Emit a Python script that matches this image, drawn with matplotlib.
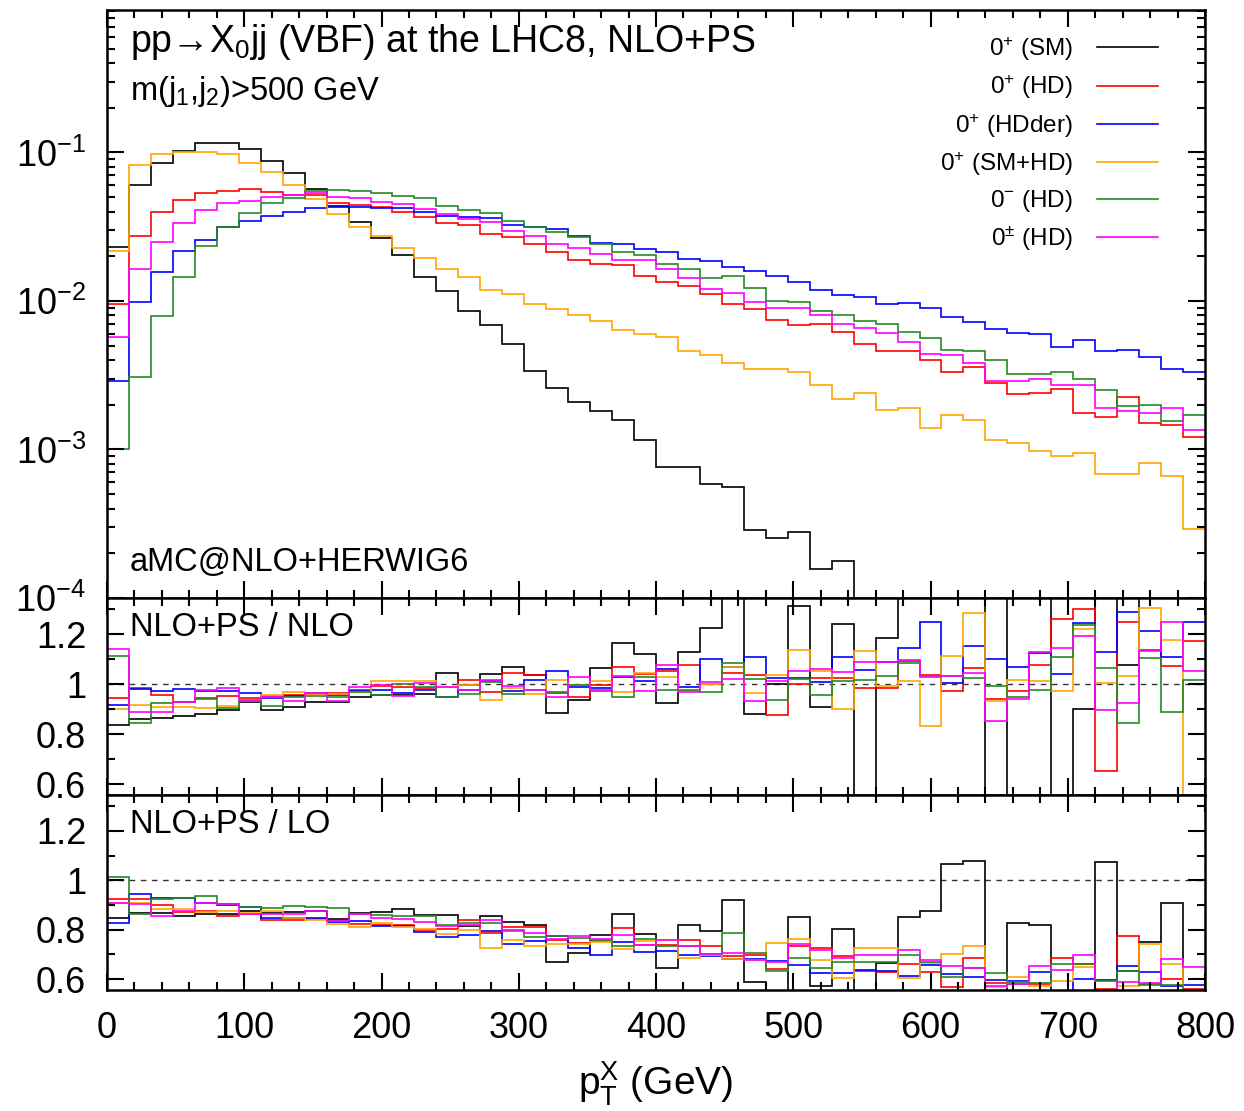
import numpy as np
import matplotlib
matplotlib.use("Agg")
import matplotlib.pyplot as plt
from matplotlib.lines import Line2D
from matplotlib.ticker import MultipleLocator, FixedLocator, LogLocator, NullFormatter

plt.rcParams['font.family'] = ['Liberation Sans', 'DejaVu Sans']
plt.rcParams['mathtext.fontset'] = 'custom'
plt.rcParams['mathtext.rm'] = 'Liberation Sans'
plt.rcParams['mathtext.it'] = 'Liberation Sans'
plt.rcParams['mathtext.bf'] = 'Liberation Sans'

# pT^X bins, 16 GeV wide, 0-800 GeV
bin_width = 16
edges = np.arange(0, 800 + bin_width, bin_width)

labels = [r'0$^{+}$ (SM)', r'0$^{+}$ (HD)', r'0$^{+}$ (HDder)',
          r'0$^{+}$ (SM+HD)', r'0$^{-}$ (HD)', r'0$^{\pm}$ (HD)']
colors = ['black', '#ff0000', '#0000ff', '#ffa500', '#228b22', '#ff00ff']

# normalised distributions (NLO+PS)
dist_sm = [0.023, 0.060, 0.085, 0.103, 0.115, 0.115, 0.106, 0.087, 0.073, 0.057,
           0.0434, 0.034, 0.0267, 0.0204, 0.0144, 0.0117, 0.0085, 0.0069, 0.0051, 0.0034,
           0.0026, 0.0021, 0.00182, 0.00158, 0.00115, 0.00076, 0.00076, 0.00059, 0.00056, 0.000286,
           0.000254, 0.00028, 0.000156, 0.000177, 8e-5, 7e-5, 5e-5, 4e-5, 3e-5, 3e-5,
           2e-5, 2e-5, 1e-5, 1e-5, 1e-5, 1e-5, 1e-5, 1e-5, 1e-5, 1e-5]
dist_hd = [0.0095, 0.0273, 0.040, 0.048, 0.053, 0.055, 0.0566, 0.054, 0.0515, 0.0515,
           0.046, 0.0443, 0.0426, 0.0395, 0.0369, 0.0335, 0.0325, 0.0283, 0.0269, 0.0243,
           0.0213, 0.0188, 0.0178, 0.0175, 0.0147, 0.0134, 0.0126, 0.0111, 0.0096, 0.0088,
           0.0074, 0.0069, 0.0070, 0.0062, 0.0051, 0.0046, 0.0046, 0.0040, 0.0033, 0.0036,
           0.0028, 0.00237, 0.0024, 0.00256, 0.00175, 0.00166, 0.00224, 0.0015, 0.00146, 0.00122]
dist_hdder = [0.0029, 0.0099, 0.0157, 0.0216, 0.0259, 0.0313, 0.0347, 0.0372, 0.0399, 0.042,
              0.0426, 0.0426, 0.042, 0.0422, 0.0399, 0.0375, 0.0366, 0.0362, 0.0325, 0.0313,
              0.0305, 0.0273, 0.0245, 0.0243, 0.0225, 0.0213, 0.0192, 0.0185, 0.0168, 0.0159,
              0.0147, 0.0134, 0.0119, 0.0110, 0.0106, 0.0096, 0.0097, 0.0089, 0.0078, 0.0072,
              0.0065, 0.0061, 0.0060, 0.0049, 0.0055, 0.0046, 0.0047, 0.0042, 0.0035, 0.0033]
dist_smhd = [0.0217, 0.082, 0.097, 0.101, 0.101, 0.097, 0.085, 0.074, 0.060, 0.0486,
             0.0387, 0.0313, 0.0273, 0.0227, 0.0195, 0.0165, 0.0144, 0.0118, 0.0111, 0.0096,
             0.0088, 0.0080, 0.0073, 0.0064, 0.0060, 0.0057, 0.0046, 0.0043, 0.0038, 0.0035,
             0.0035, 0.0033, 0.0027, 0.0022, 0.0024, 0.00185, 0.0019, 0.0014, 0.0017, 0.00159,
             0.00115, 0.00111, 0.00097, 0.00091, 0.00094, 0.00068, 0.00068, 0.00081, 0.00066, 0.00029]
dist_odd = [0.001, 0.0031, 0.0079, 0.0145, 0.0233, 0.0313, 0.0389, 0.0454, 0.049, 0.0546,
            0.0557, 0.0546, 0.0532, 0.051, 0.049, 0.0438, 0.041, 0.0391, 0.0347, 0.0313,
            0.029, 0.0269, 0.0241, 0.0213, 0.0203, 0.0178, 0.0165, 0.0143, 0.0147, 0.0122,
            0.00997, 0.0098, 0.0085, 0.0080, 0.0073, 0.0070, 0.0062, 0.0056, 0.0047, 0.0046,
            0.0040, 0.0032, 0.0032, 0.0033, 0.0030, 0.0025, 0.00196, 0.0020, 0.00156, 0.0017]
dist_mix = [0.0057, 0.0165, 0.0249, 0.0335, 0.041, 0.046, 0.047, 0.050, 0.052, 0.053,
            0.0498, 0.0496, 0.0466, 0.045, 0.0416, 0.0385, 0.0356, 0.0342, 0.0298, 0.0273,
            0.0243, 0.0228, 0.0208, 0.019, 0.0188, 0.0163, 0.0142, 0.0121, 0.0113, 0.0098,
            0.0090, 0.0090, 0.0080, 0.0070, 0.00655, 0.0061, 0.0053, 0.0044, 0.0043, 0.0038,
            0.0029, 0.0029, 0.0030, 0.0027, 0.0027, 0.0019, 0.00182, 0.00175, 0.0019, 0.00136]

# ratio NLO+PS / NLO
rnlo_sm = [0.837, 0.86, 0.863, 0.871, 0.88, 0.897, 0.929, 0.895, 0.91, 0.929,
           0.929, 0.949, 0.956, 0.957, 0.96, 1.044, 0.996, 1.04, 1.069, 1.036,
           0.884, 0.936, 1.063, 1.163, 1.12, 0.924, 1.128, 1.224, 1.6, 0.88,
           1.0, 1.313, 0.907, 1.24, 0.3, 1.183, 1.6, 1.6, 1.6, 1.6,
           0.3, 1.6, 1.6, 0.3, 0.9, 1.6, 1.076, 1.6, 1.6, 1.6]
rnlo_hd = [0.943, 0.983, 0.956, 0.929, 0.943, 0.953, 0.944, 0.951, 0.956, 0.96,
           0.963, 0.977, 0.993, 0.99, 0.983, 0.987, 1.016, 0.967, 1.043, 1.036,
           0.964, 0.949, 0.996, 1.067, 1.04, 1.051, 1.077, 1.0, 1.043, 1.037,
           0.876, 1.0, 1.024, 1.024, 0.983, 0.984, 1.093, 1.036, 0.973, 1.064,
           0.94, 0.971, 1.077, 1.26, 1.3, 0.653, 1.247, 1.137, 1.073, 1.171]
rnlo_hdder = [0.916, 0.98, 0.973, 0.98, 0.973, 0.973, 0.964, 0.943, 0.953, 0.964,
              0.956, 0.973, 0.977, 0.964, 0.977, 0.947, 0.977, 1.013, 0.973, 1.017,
              1.051, 0.99, 0.983, 1.029, 1.013, 1.06, 0.989, 1.1, 1.069, 1.109,
              1.023, 1.024, 1.007, 1.107, 1.056, 1.089, 1.144, 1.249, 1.003, 1.153,
              1.1, 1.069, 1.124, 1.04, 1.244, 1.129, 1.287, 1.211, 1.109, 1.247]
rnlo_smhd = [0.9, 0.916, 0.907, 0.909, 0.904, 0.911, 0.933, 0.956, 0.967, 0.96,
             0.96, 0.969, 1.011, 1.011, 1.013, 0.99, 0.996, 0.937, 0.984, 0.96,
             1.016, 0.996, 1.013, 0.967, 1.043, 1.027, 0.973, 1.0, 1.069, 0.964,
             1.036, 1.137, 1.053, 0.9, 1.133, 0.993, 1.011, 0.833, 1.111, 1.283,
             0.933, 1.017, 1.011, 0.973, 1.22, 1.004, 1.033, 1.304, 1.176, 0.3]
rnlo_odd = [1.112, 0.844, 0.923, 0.929, 0.94, 0.904, 0.933, 0.911, 0.947, 0.953,
            0.949, 0.969, 0.956, 1.0, 0.99, 0.947, 0.959, 1.009, 0.96, 0.977,
            0.969, 0.996, 0.973, 0.947, 1.027, 0.977, 0.976, 0.967, 1.083, 1.02,
            0.936, 1.02, 0.956, 1.011, 1.017, 1.031, 1.084, 1.033, 1.033, 1.023,
            0.991, 0.949, 0.976, 1.107, 1.236, 1.064, 0.843, 1.103, 0.887, 1.016]
rnlo_mix = [1.14, 0.889, 0.887, 0.927, 0.977, 0.983, 0.937, 0.947, 0.933, 0.964,
            0.933, 0.989, 0.996, 0.953, 1.004, 0.989, 0.977, 1.017, 0.991, 0.977,
            0.949, 1.027, 0.976, 1.031, 0.973, 1.076, 0.969, 1.007, 1.02, 0.933,
            1.011, 1.051, 1.06, 1.047, 1.087, 1.087, 1.097, 1.029, 1.033, 1.043,
            0.853, 0.94, 1.127, 1.144, 1.191, 0.897, 0.923, 1.133, 1.247, 1.053]

# ratio NLO+PS / LO
rlo_sm = [0.849, 0.867, 0.869, 0.857, 0.864, 0.863, 0.876, 0.867, 0.871, 0.877,
          0.844, 0.867, 0.871, 0.883, 0.86, 0.86, 0.813, 0.857, 0.833, 0.817,
          0.671, 0.707, 0.777, 0.863, 0.784, 0.644, 0.817, 0.793, 0.92, 0.587,
          0.5, 0.853, 0.573, 0.804, 0.5, 0.667, 0.853, 0.877, 1.067, 1.077,
          0.5, 0.829, 0.82, 0.5, 0.5, 1.072, 0.633, 0.749, 0.909, 0.5]
rlo_hd = [0.923, 0.924, 0.9, 0.873, 0.876, 0.857, 0.864, 0.84, 0.84, 0.843,
          0.836, 0.824, 0.82, 0.82, 0.8, 0.803, 0.84, 0.787, 0.809, 0.809,
          0.76, 0.747, 0.753, 0.807, 0.74, 0.74, 0.757, 0.733, 0.693, 0.697,
          0.64, 0.733, 0.724, 0.693, 0.631, 0.63, 0.66, 0.63, 0.57, 0.687,
          0.585, 0.58, 0.58, 0.687, 0.66, 0.56, 0.776, 0.58, 0.6, 0.56]
rlo_hdder = [0.827, 0.944, 0.927, 0.929, 0.907, 0.9, 0.893, 0.849, 0.849, 0.849,
             0.833, 0.836, 0.816, 0.813, 0.789, 0.769, 0.78, 0.793, 0.743, 0.753,
             0.776, 0.724, 0.696, 0.751, 0.711, 0.713, 0.697, 0.693, 0.68, 0.68,
             0.673, 0.656, 0.624, 0.623, 0.636, 0.633, 0.613, 0.656, 0.62, 0.607,
             0.597, 0.593, 0.629, 0.55, 0.6, 0.597, 0.653, 0.629, 0.571, 0.576]
rlo_smhd = [0.907, 0.907, 0.883, 0.883, 0.873, 0.877, 0.869, 0.877, 0.849, 0.84,
            0.823, 0.811, 0.829, 0.811, 0.803, 0.783, 0.797, 0.727, 0.757, 0.733,
            0.743, 0.744, 0.751, 0.72, 0.753, 0.76, 0.684, 0.696, 0.68, 0.677,
            0.747, 0.764, 0.677, 0.604, 0.727, 0.727, 0.603, 0.667, 0.703, 0.733,
            0.567, 0.609, 0.573, 0.591, 0.651, 0.5, 0.573, 0.743, 0.66, 0.5]
rlo_odd = [1.013, 0.864, 0.923, 0.927, 0.936, 0.904, 0.891, 0.887, 0.896, 0.891,
           0.887, 0.864, 0.86, 0.856, 0.857, 0.82, 0.829, 0.829, 0.8, 0.769,
           0.776, 0.767, 0.76, 0.733, 0.764, 0.733, 0.733, 0.703, 0.787, 0.707,
           0.633, 0.684, 0.647, 0.671, 0.669, 0.669, 0.697, 0.671, 0.607, 0.643,
           0.624, 0.587, 0.584, 0.66, 0.663, 0.591, 0.633, 0.577, 0.576, 0.5]
rlo_mix = [0.907, 0.904, 0.857, 0.877, 0.907, 0.903, 0.864, 0.864, 0.864, 0.877,
           0.836, 0.864, 0.849, 0.844, 0.831, 0.813, 0.82, 0.84, 0.796, 0.787,
           0.764, 0.773, 0.764, 0.777, 0.74, 0.757, 0.733, 0.703, 0.707, 0.676,
           0.671, 0.743, 0.716, 0.687, 0.697, 0.697, 0.716, 0.677, 0.653, 0.643,
           0.573, 0.58, 0.653, 0.636, 0.697, 0.5, 0.587, 0.584, 0.683, 0.65]

dists = [dist_sm, dist_hd, dist_hdder, dist_smhd, dist_odd, dist_mix]
ratios_nlo = [rnlo_sm, rnlo_hd, rnlo_hdder, rnlo_smhd, rnlo_odd, rnlo_mix]
ratios_lo = [rlo_sm, rlo_hd, rlo_hdder, rlo_smhd, rlo_odd, rlo_mix]

W, H = 1244, 1111
fig = plt.figure(figsize=(W / 100, H / 100), dpi=100)
left, right = 107 / W, 1205 / W


def frac(y0, y1):
    return [left, 1 - y1 / H, right - left, (y1 - y0) / H]


ax_top = fig.add_axes(frac(10, 598))
ax_mid = fig.add_axes(frac(598, 795))
ax_bot = fig.add_axes(frac(795, 990))

lw = 1.2
for vals, c in zip(dists, colors):
    ax_top.stairs(vals, edges, color=c, lw=lw, baseline=None)
for vals, c in zip(ratios_nlo, colors):
    ax_mid.stairs(vals, edges, color=c, lw=lw, baseline=None)
for vals, c in zip(ratios_lo, colors):
    ax_bot.stairs(vals, edges, color=c, lw=lw, baseline=None)

ax_top.set_yscale('log')
ax_top.set_ylim(1e-4, 0.91)
ax_top.yaxis.set_major_locator(LogLocator(base=10, numticks=10))
ax_top.yaxis.set_minor_locator(LogLocator(base=10, subs=np.arange(2, 10), numticks=20))
ax_top.yaxis.set_minor_formatter(NullFormatter())

for ax in (ax_mid, ax_bot):
    ax.set_ylim(0.556, 1.345)
    ax.yaxis.set_major_locator(FixedLocator([0.6, 0.8, 1.0, 1.2]))
    ax.set_yticklabels(['0.6', '0.8', '1', '1.2'])
    ax.yaxis.set_minor_locator(MultipleLocator(0.1))
    ax.axhline(1.0, color='#333333', lw=1.0, ls=(0, (4, 4)), zorder=0)

for ax in (ax_top, ax_mid, ax_bot):
    ax.set_xlim(0, 800)
    ax.xaxis.set_major_locator(MultipleLocator(100))
    ax.xaxis.set_minor_locator(MultipleLocator(20))
    ax.tick_params(which='both', direction='in', top=True, right=True, width=1.5)
    ax.tick_params(which='major', length=12, labelsize=26, pad=15)
    ax.tick_params(which='minor', length=6)
    for s in ax.spines.values():
        s.set_linewidth(1.8)

ax_top.tick_params(axis='x', labelbottom=False)
ax_mid.tick_params(axis='x', labelbottom=False)

ax_top.text(0.021, 0.945, r'pp→X$_0$jj (VBF) at the LHC8, NLO+PS',
            transform=ax_top.transAxes, fontsize=27, va='center', ha='left')
ax_top.text(0.021, 0.862, r'm(j$_1$,j$_2$)>500 GeV',
            transform=ax_top.transAxes, fontsize=23.5, va='center', ha='left')
ax_top.text(0.021, 0.06, 'aMC@NLO+HERWIG6',
            transform=ax_top.transAxes, fontsize=23.5, va='center', ha='left')
ax_mid.text(0.021, 0.848, 'NLO+PS / NLO',
            transform=ax_mid.transAxes, fontsize=23.5, va='center', ha='left')
ax_bot.text(0.021, 0.851, 'NLO+PS / LO',
            transform=ax_bot.transAxes, fontsize=23.5, va='center', ha='left')

handles = [Line2D([], [], color=c, lw=1.2) for c in colors]
ax_top.legend(handles, labels, loc='upper right', frameon=False, markerfirst=False,
              fontsize=17.5, handlelength=2.5, handletextpad=1.0, labelspacing=0.43,
              borderaxespad=0.0, bbox_to_anchor=(0.966, 0.974))

ax_bot.set_xlabel(r'p$_{\rm T}^{\rm X}$ (GeV)', fontsize=28, labelpad=10)

fig.savefig('out.png', dpi=100)
